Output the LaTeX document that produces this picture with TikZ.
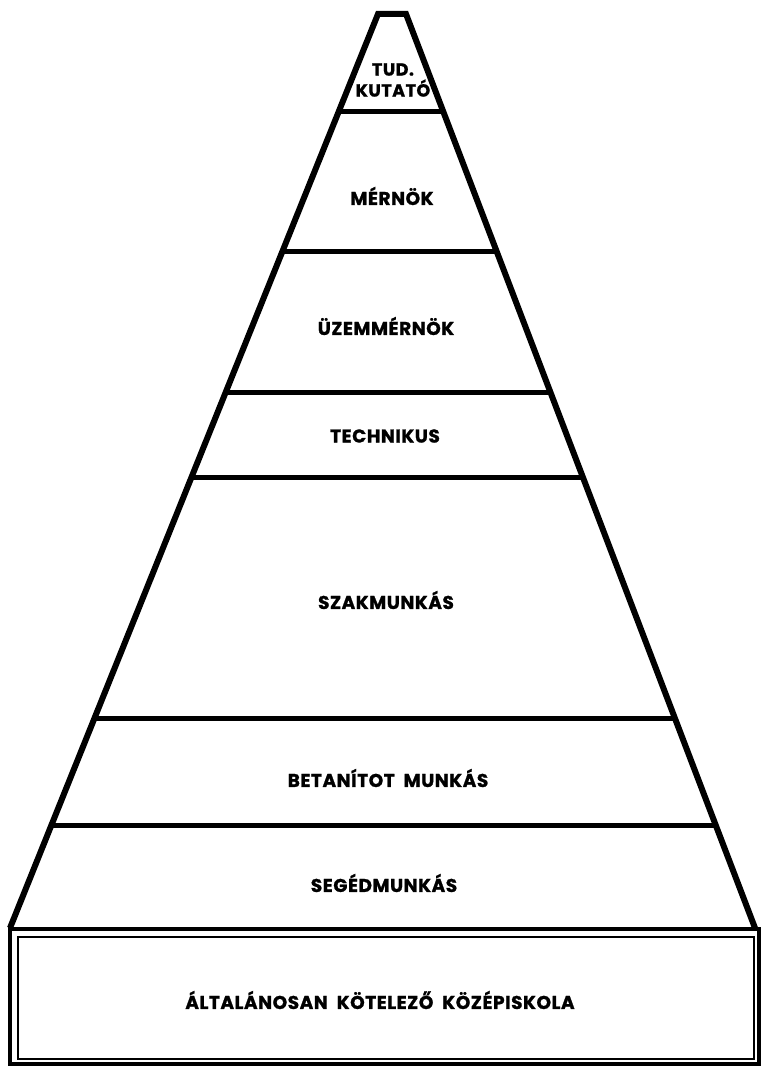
\documentclass[tikz,border=0pt]{standalone}
\usepackage{fontspec}
\newfontfamily\pyrfont{Poppins}[LetterSpace=3, FakeBold=1.2]
\usetikzlibrary{calc,positioning}

\begin{document}
\begin{tikzpicture}[x=1pt, y=-1pt,
    pyr/.style={line width=6pt, line join=miter},
    sep/.style={line width=5pt},
    outerbox/.style={line width=4.5pt},
    innerbox/.style={line width=2pt},
    lbl/.style={font=\pyrfont\bfseries\fontsize{18.5}{19}\selectfont, align=center, inner sep=0pt}
    ]
\useasboundingbox (0,0) rectangle (761,1067);
% corners of the pyramid
\coordinate (tl) at (378,14);
\coordinate (tr) at (406,14);
\coordinate (bl) at (10,928);
\coordinate (br) at (755,928);
\draw[pyr] (bl) -- (tl) -- (tr) -- (br);

% band boundaries
\foreach \y in {112,252,393,477,718,825}
    \draw[sep] ($(tl)!{(\y-14)/914}!(bl)$) -- ($(tr)!{(\y-14)/914}!(br)$);

% base
\draw[outerbox] (10,929) rectangle (759,1064);
\draw[innerbox] (18,937) rectangle (754,1059);

\node[lbl, font=\pyrfont\bfseries\fontsize{17.5}{20}\selectfont] (tud) at (393,80) {TUD.\\[1pt]KUTATÓ};
\node[lbl] (mernok) at (392,196)  {MÉRNÖK};
\node[lbl] (uzem)   at (386,326)  {ÜZEMMÉRNÖK};
\node[lbl] (tech)   at (385,436)  {TECHNIKUS};
\node[lbl] (szak)   at (386,600)  {SZAKMUNKÁS};
\node[lbl] (betan)  at (388,778)  {BETANÍTOT\ \ MUNKÁS};
\node[lbl] (seged)  at (384,883)  {SEGÉDMUNKÁS};
\node[lbl] (altal)  at (380,1000) {ÁLTALÁNOSAN\ \ KÖTELEZŐ\ \ KÖZÉPISKOLA};
\end{tikzpicture}
\end{document}
